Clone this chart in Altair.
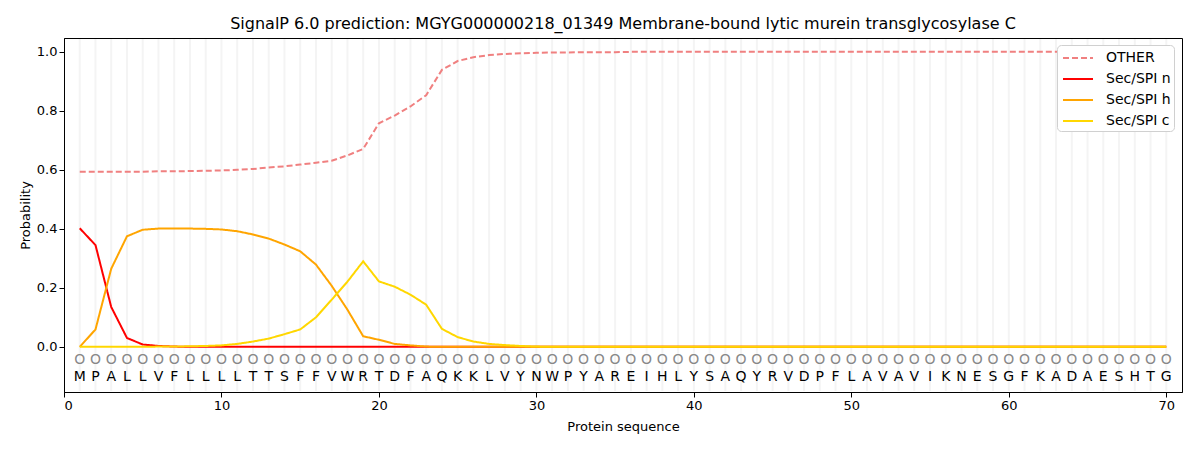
import altair as alt
import pandas as pd

residues = list("MPALLVFLLLLTTSFFVWRTDFAQKKLVYNWPYAREIHLYSAQYRVDPFLAVAVIKNESGFKADAESHTG")
positions = list(range(1, 71))

other = [0.594, 0.594, 0.594, 0.594, 0.594, 0.595, 0.595, 0.596, 0.597, 0.598,
         0.600, 0.603, 0.608, 0.612, 0.618, 0.624, 0.631, 0.649, 0.671, 0.758,
         0.784, 0.815, 0.853, 0.939, 0.969, 0.982, 0.989, 0.993, 0.995, 0.997,
         0.998, 0.998, 0.999, 0.999, 0.999] + [1.0] * 35
sec_n = [0.402, 0.345, 0.135, 0.030, 0.008, 0.003, 0.001] + [0.0] * 63
sec_h = [0.0, 0.059, 0.265, 0.375, 0.397, 0.401, 0.401, 0.401, 0.400, 0.398,
         0.392, 0.381, 0.367, 0.347, 0.324, 0.279, 0.207, 0.126, 0.036, 0.024,
         0.010, 0.005, 0.001] + [0.0] * 47
sec_c = [0.0, 0.0, 0.0, 0.0, 0.0, 0.001, 0.001, 0.002, 0.003, 0.005,
         0.010, 0.018, 0.028, 0.043, 0.059, 0.100, 0.160, 0.221, 0.290, 0.222,
         0.204, 0.177, 0.143, 0.061, 0.033, 0.018, 0.010, 0.006, 0.003, 0.001] + [0.0] * 40

series_names = ["OTHER", "Sec/SPI n", "Sec/SPI h", "Sec/SPI c"]
series_colors = ["#f08080", "#ff0000", "#ffa500", "#ffd700"]
series_dash = [[6, 3], [1, 0], [1, 0], [1, 0]]
series_values = [other, sec_n, sec_h, sec_c]

rows = []
for name, vals in zip(series_names, series_values):
    for p, v in zip(positions, vals):
        rows.append({"pos": p, "prob": v, "series": name})
df = pd.DataFrame(rows)

seq_df = pd.DataFrame({"pos": positions, "aa": residues,
                       "lab": ["O"] * 70})

W, H = 1118, 354
xscale = alt.Scale(domain=[0, 71], nice=False, zero=False)
yscale = alt.Scale(domain=[-0.153, 1.047], nice=False, zero=False)
color_scale = alt.Scale(domain=series_names, range=series_colors)
dash_scale = alt.Scale(domain=series_names, range=series_dash)

grid = alt.Chart(seq_df).mark_rule(color="#f4f4f4", strokeWidth=2).encode(
    x=alt.X("pos:Q", scale=xscale),
    y=alt.value(1),
    y2=alt.value(H - 1),
)

lines = []
for name in series_names:
    ln = alt.Chart(df).transform_filter(alt.datum.series == name).mark_line(
        strokeWidth=2
    ).encode(
        x=alt.X("pos:Q", scale=xscale,
                axis=alt.Axis(title="Protein sequence", values=list(range(0, 71, 10)),
                              format="d", grid=False, titlePadding=8)),
        y=alt.Y("prob:Q", scale=yscale,
                axis=alt.Axis(title="Probability", values=[0, 0.2, 0.4, 0.6, 0.8, 1.0],
                              format=".1f", grid=False)),
        color=alt.Color("series:N", scale=color_scale,
                        legend=alt.Legend(title=None, orient="none", legendX=993, legendY=7,
                                          symbolType="M-1.667,0H1.667", symbolSize=324,
                                          symbolOffset=8,
                                          symbolStrokeWidth=2, labelFontSize=14,
                                          labelFont="DejaVu Sans", rowPadding=4,
                                          padding=3, strokeColor="#d0d0d0",
                                          cornerRadius=4, fillColor="white",
                                          labelColor="black", labelOffset=18)),
        strokeDash=alt.StrokeDash("series:N", scale=dash_scale, legend=None),
    )
    lines.append(ln)

circles = alt.Chart(seq_df).mark_text(fontSize=14, color="#888888",
                                       font="DejaVu Sans", baseline="middle").encode(
    x=alt.X("pos:Q", scale=xscale),
    y=alt.datum(-0.045),
    text="lab:N",
)
letters = alt.Chart(seq_df).mark_text(fontSize=14, color="black",
                                       font="DejaVu Sans", baseline="middle").encode(
    x=alt.X("pos:Q", scale=xscale),
    y=alt.datum(-0.102),
    text="aa:N",
)

chart = alt.layer(grid, *lines, circles, letters).properties(
    width=W, height=H,
    title=alt.TitleParams(
        "SignalP 6.0 prediction: MGYG000000218_01349 Membrane-bound lytic murein transglycosylase C",
        fontSize=16, font="DejaVu Sans", fontWeight="normal", color="black", offset=6),
    padding={"left": 11, "top": 8, "right": 5, "bottom": 5},
).configure_view(stroke="black", strokeWidth=1).configure_axis(
    labelFont="DejaVu Sans", titleFont="DejaVu Sans", labelFontSize=13,
    titleFontSize=13, titleFontWeight="normal", labelColor="black", titleColor="black",
    domainColor="black", tickColor="black", tickSize=5,
)

chart.save("out.html", embed_options={"renderer": "svg", "actions": False})
